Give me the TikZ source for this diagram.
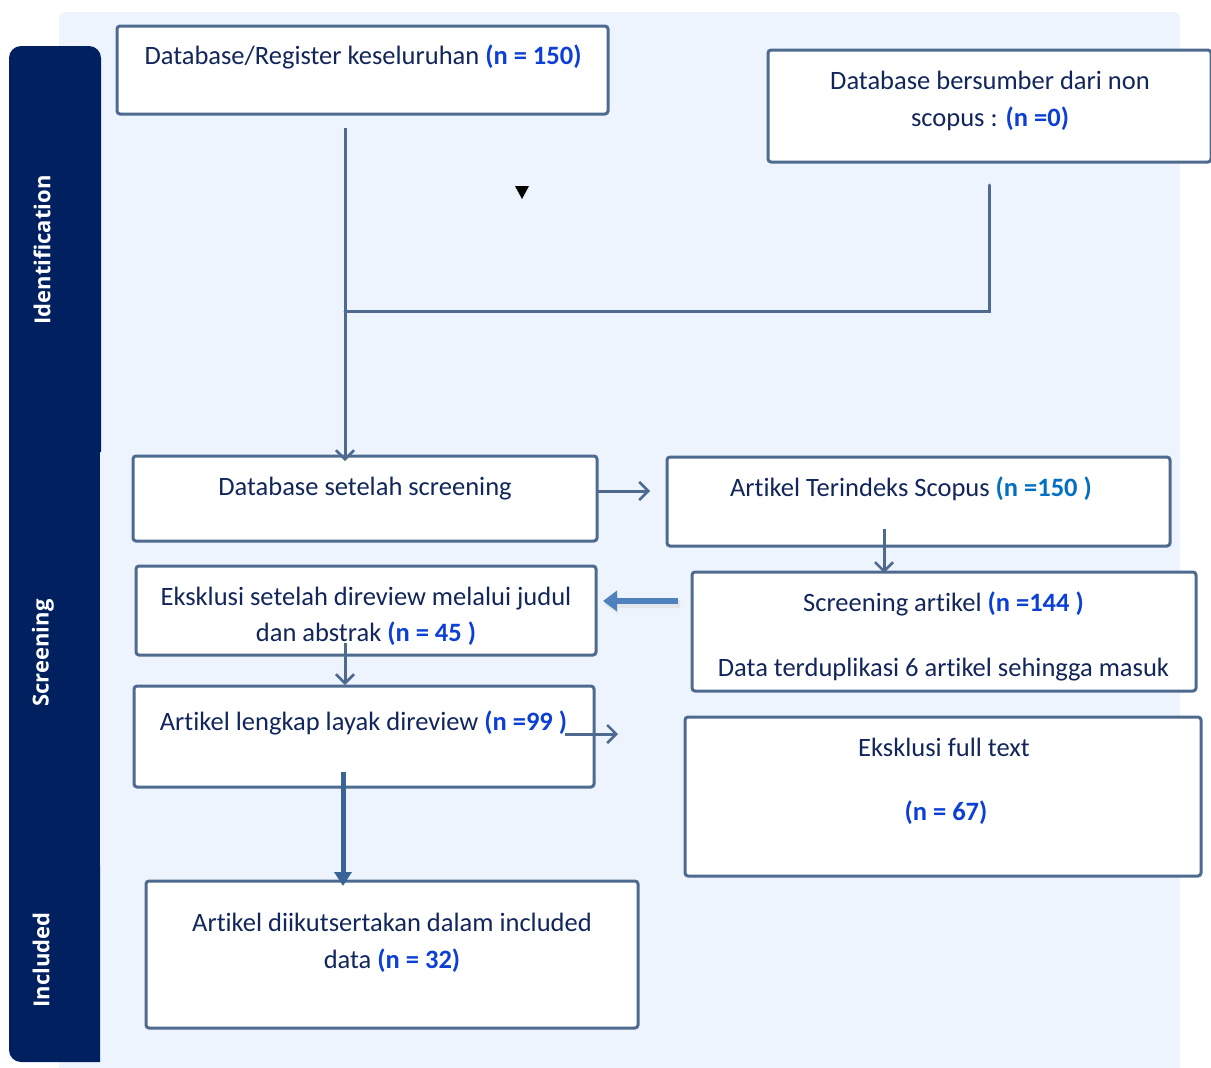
\documentclass[tikz,border=0pt]{standalone}
\usepackage{fontspec}
\setmainfont{Carlito}[Ligatures=NoCommon]
\newfontfamily\sidefont{Open Sans}
\usetikzlibrary{arrows.meta}
\definecolor{bgblue}{HTML}{EEF4FD}
\definecolor{navy}{HTML}{002060}
\definecolor{boxline}{HTML}{4E6A8F}
\definecolor{txtnavy}{HTML}{12265C}
\definecolor{nblue}{HTML}{0B3FD6}
\definecolor{nblueb}{HTML}{0070C0}
\definecolor{thickblue}{HTML}{4F81BD}
\definecolor{darkarrow}{HTML}{3A6496}
\tikzset{
  box/.style={draw=boxline, line width=3pt, fill=white, rounded corners=3pt, inner sep=0pt},
  txt/.style={font=\fontsize{26.5}{36}\selectfont, text=txtnavy, anchor=base, inner sep=0pt},
  side/.style={font=\sidefont\bfseries\fontsize{22}{26}\selectfont, text=white, rotate=90, inner sep=0pt},
  conn/.style={draw=boxline, line width=3pt},
  chev/.style={-{Straight Barb[length=9pt,width=18pt,line width=2.5pt]}},
}
\newcommand{\nb}[1]{\textcolor{nblue}{\bfseries #1}}
\begin{document}
\begin{tikzpicture}[x=1pt,y=-1pt]
\useasboundingbox (0,0) rectangle (1211,1068);
% background panel
\fill[bgblue, rounded corners=6pt] (59,12) rectangle (1180,1080);
% side bars
\fill[navy] (9,62) [rounded corners=12pt] -- (9,46) -- (101,46) [sharp corners] -- (101,452) -- (9,452) -- cycle;
\fill[navy] (9,435) rectangle (100,880);
\fill[navy] (100,865) [sharp corners] -- (100,1062) [rounded corners=12pt] -- (9,1062) [sharp corners] -- (9,865) -- cycle;
\node[side] (sid) at (42,250) {Identification};
\node[side] (sscr) at (43,653) {Screening};
\node[side] (sinc) at (41,960) {Included};

% boxes
\node[box, minimum width=491pt, minimum height=88pt] (b1) at (362.5,70) {};
\node[box, minimum width=443pt, minimum height=112pt] (b2) at (989.5,106) {};
\node[box, minimum width=464pt, minimum height=85pt] (b3) at (365,498.5) {};
\node[box, minimum width=503pt, minimum height=89pt] (b4) at (918.5,501.5) {};
\node[box, minimum width=504pt, minimum height=119pt] (b5) at (944,631.5) {};
\node[box, minimum width=460pt, minimum height=89pt] (b6) at (366,610.5) {};
\node[box, minimum width=460pt, minimum height=101pt] (b7) at (364,736.5) {};
\node[box, minimum width=516pt, minimum height=159pt] (b8) at (943,796.5) {};
\node[box, minimum width=492pt, minimum height=147pt] (b9) at (392,954.5) {};

% texts
\node[txt] (t1) at (363,64) {Database/Register keseluruhan \nb{(n = 150)}};
\node[txt] (t2a) at (990,89) {Database bersumber dari non};
\node[txt] (t2b) at (990,126) {scopus : \nb{(n =0)}};
\node[txt] (t3) at (365,495) {Database setelah screening};
\node[txt] (t4) at (911,496) {Artikel Terindeks Scopus \textcolor{nblueb}{\bfseries (n =150 )}};
\node[txt] (t5a) at (943.5,611) {Screening artikel \nb{(n =144 )}};
\node[txt] (t5b) at (943.5,676) {Data terduplikasi 6 artikel sehingga masuk};
\node[txt] (t6a) at (366,605) {Eksklusi setelah direview melalui judul};
\node[txt] (t6b) at (366,641) {dan abstrak \nb{(n = 45 )}};
\node[txt] (t7) at (363.5,730) {Artikel lengkap layak direview \nb{(n =99 )}};
\node[txt] (t8a) at (944,756) {Eksklusi full text};
\node[txt] (t8b) at (946,820) {\nb{(n = 67)}};
\node[txt] (t9a) at (392,931) {Artikel diikutsertakan dalam included};
\node[txt] (t9b) at (392,968) {data \nb{(n = 32)}};

% connector coordinates
\coordinate (c1) at (345,128);
\coordinate (c1e) at (345,461);
\coordinate (c2) at (989,185);
\coordinate (c2b) at (989,311);
\coordinate (j1) at (345,311);
\coordinate (c3s) at (597,491);
\coordinate (c3e) at (650,491);
\coordinate (c4s) at (884,529);
\coordinate (c4e) at (884,573);
\coordinate (c5s) at (678,601);
\coordinate (c5e) at (603,601);
\coordinate (c6s) at (345,643);
\coordinate (c6e) at (345,685);
\coordinate (c7s) at (565,734);
\coordinate (c7e) at (618,734);
\coordinate (c8s) at (343,772);
\coordinate (c8e) at (343,886);

% connectors
\draw[conn, chev] (c1) -- (c1e);
\draw[conn, line cap=round] (c2) -- (c2b) -- (j1);
\draw[conn, chev] (c3s) -- (c3e);
\draw[conn, chev] (c4s) -- (c4e);
\fill[black!15, opacity=0.5] (604,604) -- (618,594) -- (618,600) -- (680,600) -- (680,608) -- (618,608) -- (618,614) -- cycle;
\draw[draw=thickblue, line width=6pt, -{Triangle[length=14pt,width=20pt]}] (c5s) -- (c5e);
\draw[conn, chev] (c6s) -- (c6e);
\draw[conn, chev] (c7s) -- (c7e);
\draw[draw=darkarrow, line width=5pt, -{Triangle[length=14pt,width=17pt]}] (c8s) -- (c8e);

% stray marker
\fill[black] (515,186) -- (529,186) -- (522,199) -- cycle;
\end{tikzpicture}
\end{document}
